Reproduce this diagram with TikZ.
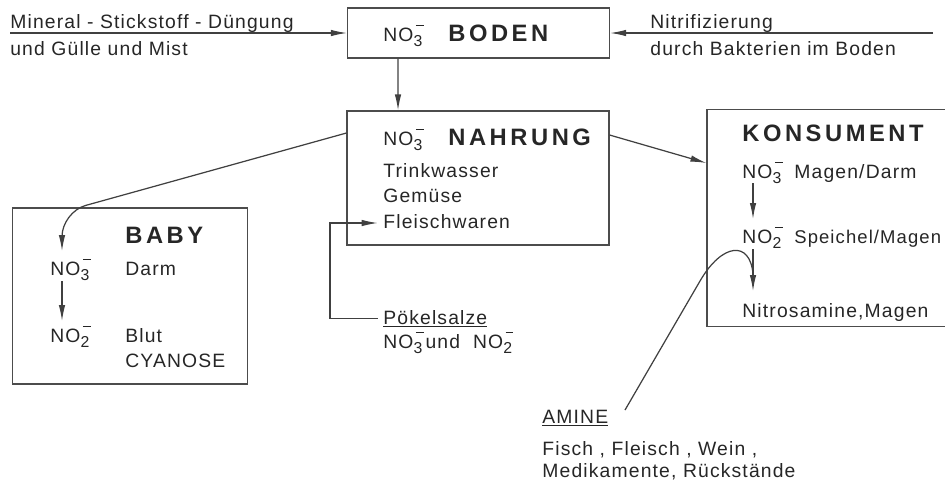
\documentclass[tikz,border=0pt]{standalone}
\usepackage{fontspec}
\setmainfont{Liberation Sans}[LetterSpace=6]
\newfontfamily\titelfont{Liberation Sans}[LetterSpace=15]
\usetikzlibrary{positioning,arrows.meta}

% Nitrat / Nitrit
\newcommand{\nox}[1]{NO\rlap{\hspace{0.12em}\rule[1.45ex]{0.4em}{0.6pt}}\raisebox{-0.55ex}{\small #1}}

\begin{document}
\begin{tikzpicture}[
	x=0.02cm, y=-0.02cm,
	% --- Linien und Pfeile ---
	linie/.style={draw=black!75, line width=0.7pt},
	pfeil/.style={linie, -{Latex[length=3.2mm,width=1.3mm]}},
	% --- Kaesten ---
	kasten/.style={draw=black!70, line width=0.7pt, rectangle, inner sep=0pt},
	% --- Texte ---
	txt/.style={anchor=base west, inner sep=0pt, text=black!85,
		font=\fontsize{11}{13}\selectfont},
	titel/.style={anchor=base west, inner sep=0pt, text=black!85,
		font=\fontsize{13.5}{15}\selectfont\titelfont\bfseries}
	]
	\useasboundingbox (0,0) rectangle (945,488);
	
	% Kaesten
	\node[kasten, minimum width=5.24cm, minimum height=1cm] (boden) at (478.5,33) {};
	\node[kasten, minimum width=5.24cm, minimum height=2.68cm] (nahrung) at (478,178) {};
	\node[kasten, minimum width=4.70cm, minimum height=3.52cm] (baby) at (130,296) {};
	\node[kasten, minimum width=5.06cm, minimum height=4.34cm] (konsument) at (833.5,218) {};
	
	% BODEN
	\node[txt] (boden_no) at (383,41) {\nox{3}};
	\node[titel] (boden_t) at (448,41) {BODEN};
	\node[txt] (mineral) at (10,28) {Mineral - Stickstoff - Düngung};
	\node[txt] (guelle) at (10,55) {und Gülle und Mist};
	\node[txt] (nitri) at (650,28) {Nitrifizierung};
	\node[txt] (bakterien) at (650,55) {durch Bakterien im Boden};
	\coordinate (mineral_l) at (10,33);
	\coordinate (nitri_r) at (933,33);
	\draw[pfeil] (mineral_l) -- (boden.west |- mineral_l);
	\draw[pfeil] (nitri_r) -- (boden.east |- nitri_r);
	\draw[pfeil] ([xshift=-1.61cm]boden.south) -- ([xshift=-1.6cm]nahrung.north);
	
	% NAHRUNG
	\node[txt] (nahrung_no) at (383,145) {\nox{3}};
	\node[titel] (nahrung_t) at (448,145) {NAHRUNG};
	\node[txt] (trink) at (383,177) {Trinkwasser};
	\node[txt] (gemuese) at (383,202) {Gemüse};
	\node[txt] (fleisch) at (383,228) {Fleischwaren};
	
	% Poekelsalze
	\node[txt] (poekel) at (383,324) {\underline{Pökelsalze}};
	\node[txt] (poekel_no) at (383,348) {\nox{3}\,und \ \nox{2}};
	\draw[pfeil] ([xshift=-3pt]poekel.west) -| (330,223) -- ([xshift=-3pt]fleisch.west |- 0,223);
	
	% BABY
	\node[titel] (baby_t) at (125,243) {BABY};
	\node[txt] (baby_no3) at (50,275) {\nox{3}};
	\node[txt] (darm) at (125,275) {Darm};
	\node[txt] (baby_no2) at (50,342) {\nox{2}};
	\node[txt] (blut) at (125,342) {Blut};
	\node[txt] (cyanose) at (125,367) {CYANOSE};
	\draw[pfeil, rounded corners=14] ([yshift=0.9cm]nahrung.west) -- (62,212) -- (62,251);
	\draw[pfeil] (62,281) -- (62,321);
	
	% KONSUMENT
	\draw[pfeil] ([yshift=0.86cm]nahrung.east) -- (konsument.west |- 0,163);
	\node[titel] (kons_t) at (742,141) {KONSUMENT};
	\node[txt] (kons_no3) at (742,178) {\nox{3}};
	\node[txt] (magen) at (794,178) {Magen/Darm};
	\node[txt] (kons_no2) at (742,243) {\nox{2}};
	\node[txt, font=\fontsize{10.5}{12}\selectfont] (speichel) at (794,243) {Speichel/Magen};
	\node[txt] (nitros) at (742,317) {Nitrosamine,Magen};
	\draw[pfeil] (753,183) -- (753,219);
	\draw[pfeil] (753,249) -- (753,291);
	
	% AMINE
	\node[txt] (amine) at (542,423) {\underline{AMINE}};
	\node[txt] (fisch) at (542,455) {Fisch , Fleisch , Wein ,};
	\node[txt] (medi) at (542,477) {Medikamente, Rückstände};
	\coordinate (amine_r) at (625,410);
	\draw[linie] (amine_r) -- (700,281) .. controls (722,243) and (750,240) .. (753,274);
\end{tikzpicture}
\end{document}
